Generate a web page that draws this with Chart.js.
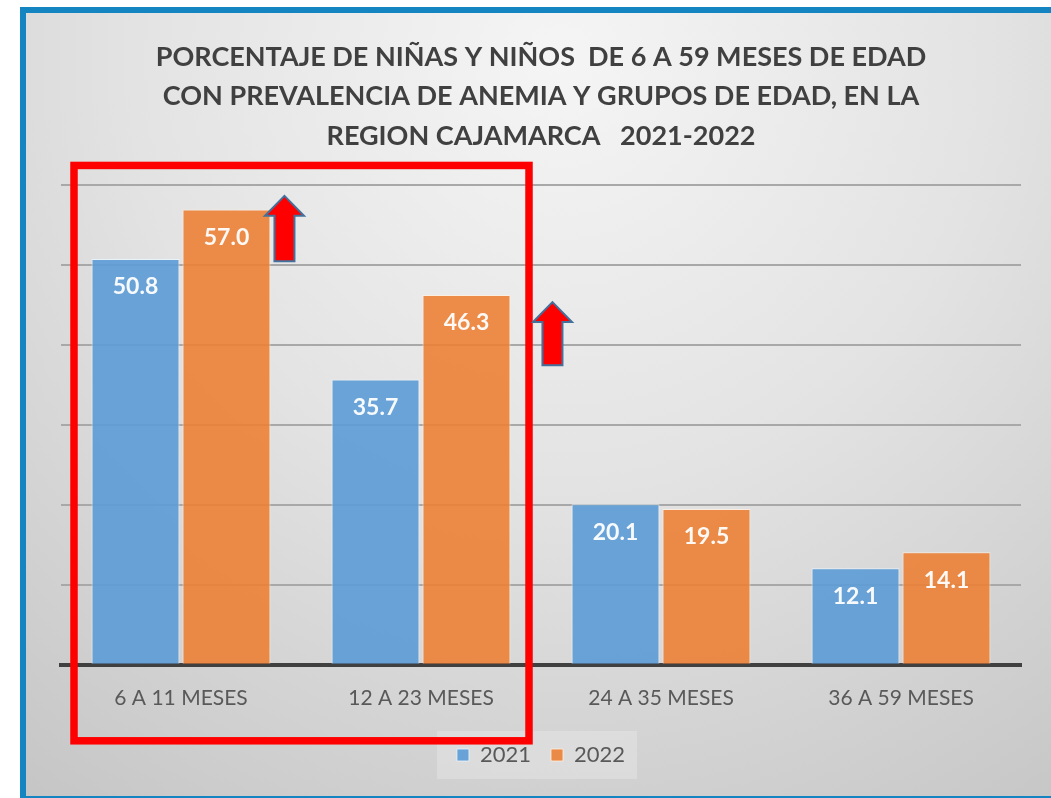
<!DOCTYPE html>
<html>
<head>
<meta charset="utf-8">
<title>Anemia Cajamarca 2021-2022</title>
<script src="https://cdn.jsdelivr.net/npm/chart.js@4"></script>
<style>
html,body{margin:0;padding:0;background:#fff;overflow:hidden}
canvas{display:block}
</style>
</head>
<body>
<canvas id="chart" width="1051" height="798"></canvas>
<script>
const titleLines = [
  'PORCENTAJE DE NIÑAS Y NIÑOS  DE 6 A 59 MESES DE EDAD',
  'CON PREVALENCIA DE ANEMIA Y GRUPOS DE EDAD, EN LA',
  'REGION CAJAMARCA   2021-2022'
];
const categories = ['6 A 11 MESES', '12 A 23 MESES', '24 A 35 MESES', '36 A 59 MESES'];
const seriesNames = ['2021', '2022'];
const values2021 = [50.8, 35.7, 20.1, 12.1];
const values2022 = [57.0, 46.3, 19.5, 14.1];
const yMax = 60;
const yStep = 10;
// red "increase" arrows next to the first two groups: [category, from, to]
const arrowSpans = [[0, 50.5, 58.7], [1, 37.5, 45.4]];

const FONT = 'Lato, "Open Sans", sans-serif';

const frame = {
  id: 'frame',
  beforeDraw(chart) {
    const ctx = chart.ctx, w = chart.width, h = chart.height;
    ctx.save();
    ctx.fillStyle = '#ffffff';
    ctx.fillRect(0, 0, w, h);
    ctx.fillStyle = '#1485c0';
    ctx.fillRect(20, 7, w - 20, h - 7);
    const g = ctx.createRadialGradient(560, 60, 0, 560, 60, 950);
    g.addColorStop(0, '#f5f5f5');
    g.addColorStop(0.45, '#e3e3e3');
    g.addColorStop(1, '#c3c3c3');
    ctx.fillStyle = g;
    ctx.fillRect(26, 13, w - 26, h - 15);
    // legend backdrop
    const boxes = chart.legend.legendHitBoxes;
    if (boxes && boxes.length) {
      const l = Math.min(...boxes.map(b => b.left)) - 20;
      const r = Math.max(...boxes.map(b => b.left + b.width)) + 12;
      const cy = boxes[0].top + boxes[0].height / 2;
      ctx.fillStyle = 'rgba(255,255,255,0.22)';
      ctx.fillRect(l, cy - 24, r - l, 48);
    }
    ctx.restore();
  }
};

const barLabels = {
  id: 'barLabels',
  afterDatasetsDraw(chart) {
    const ctx = chart.ctx;
    ctx.save();
    ctx.font = 'bold 23px ' + FONT;
    ctx.fillStyle = 'rgba(255,255,255,0.95)';
    ctx.textAlign = 'center';
    ctx.textBaseline = 'middle';
    chart.data.datasets.forEach((ds, i) => {
      chart.getDatasetMeta(i).data.forEach((bar, j) => {
        ctx.fillText(ds.data[j].toFixed(1), bar.x, bar.y + 28);
      });
    });
    ctx.restore();
  }
};

const highlight = {
  id: 'highlight',
  afterDraw(chart) {
    const ctx = chart.ctx;
    const xs = chart.scales.x, ys = chart.scales.y;
    const area = chart.chartArea;
    ctx.save();
    // red box around the first two groups
    ctx.strokeStyle = '#ff0000';
    ctx.lineWidth = 7.5;
    const left = xs.getPixelForValue(0) - 107;
    const right = xs.getPixelForValue(1) + 108;
    const top = area.top - 20;
    const bottom = ys.getPixelForValue(0) + 76;
    ctx.strokeRect(left, top, right - left, bottom - top);
    // arrows
    const meta = chart.getDatasetMeta(1);
    const offsets = [14, 42];
    arrowSpans.forEach(([cat, from, to], k) => {
      const bar = meta.data[cat];
      const cx = bar.x + bar.width / 2 + offsets[k];
      const yTip = ys.getPixelForValue(to);
      const yBot = ys.getPixelForValue(from);
      const headH = 20, headW = 19.5, shaftW = 10;
      ctx.beginPath();
      ctx.moveTo(cx, yTip);
      ctx.lineTo(cx + headW, yTip + headH);
      ctx.lineTo(cx + shaftW, yTip + headH);
      ctx.lineTo(cx + shaftW, yBot);
      ctx.lineTo(cx - shaftW, yBot);
      ctx.lineTo(cx - shaftW, yTip + headH);
      ctx.lineTo(cx - headW, yTip + headH);
      ctx.closePath();
      ctx.fillStyle = '#ff0000';
      ctx.fill();
      ctx.lineWidth = 2;
      ctx.strokeStyle = '#41719c';
      ctx.stroke();
    });
    ctx.restore();
  }
};

new Chart(document.getElementById('chart'), {
  type: 'bar',
  data: {
    labels: categories,
    datasets: [
      { label: seriesNames[0], data: values2021, backgroundColor: 'rgba(91,155,213,0.9)', borderColor: 'rgba(235,245,255,0.8)', borderWidth: 1, categoryPercentage: 0.758, barPercentage: 0.967 },
      { label: seriesNames[1], data: values2022, backgroundColor: 'rgba(237,125,49,0.88)', borderColor: 'rgba(255,240,225,0.8)', borderWidth: 1, categoryPercentage: 0.758, barPercentage: 0.967 }
    ]
  },
  options: {
    responsive: false,
    animation: false,
    devicePixelRatio: 1,
    layout: { padding: { left: 61, right: 30, top: 8, bottom: 22 } },
    plugins: {
      title: {
        display: true,
        text: titleLines,
        color: '#404040',
        font: { family: FONT, size: 27, weight: 'bold', lineHeight: 1.45 },
        padding: { top: 30, bottom: 30 }
      },
      legend: {
        position: 'bottom',
        labels: {
          color: '#595959',
          font: { family: FONT, size: 22 },
          boxWidth: 12,
          boxHeight: 12,
          padding: 20
        }
      },
      tooltip: { enabled: false }
    },
    scales: {
      x: {
        grid: { display: false },
        border: { display: true, color: '#404040', width: 4 },
        ticks: { color: '#595959', font: { family: FONT, size: 21 }, padding: 13 }
      },
      y: {
        min: 0,
        max: yMax,
        ticks: { display: false, stepSize: yStep },
        grid: { color: '#a8a8a8', lineWidth: 2, drawTicks: false },
        border: { display: false }
      }
    }
  },
  plugins: [frame, barLabels, highlight]
});
</script>
</body>
</html>
